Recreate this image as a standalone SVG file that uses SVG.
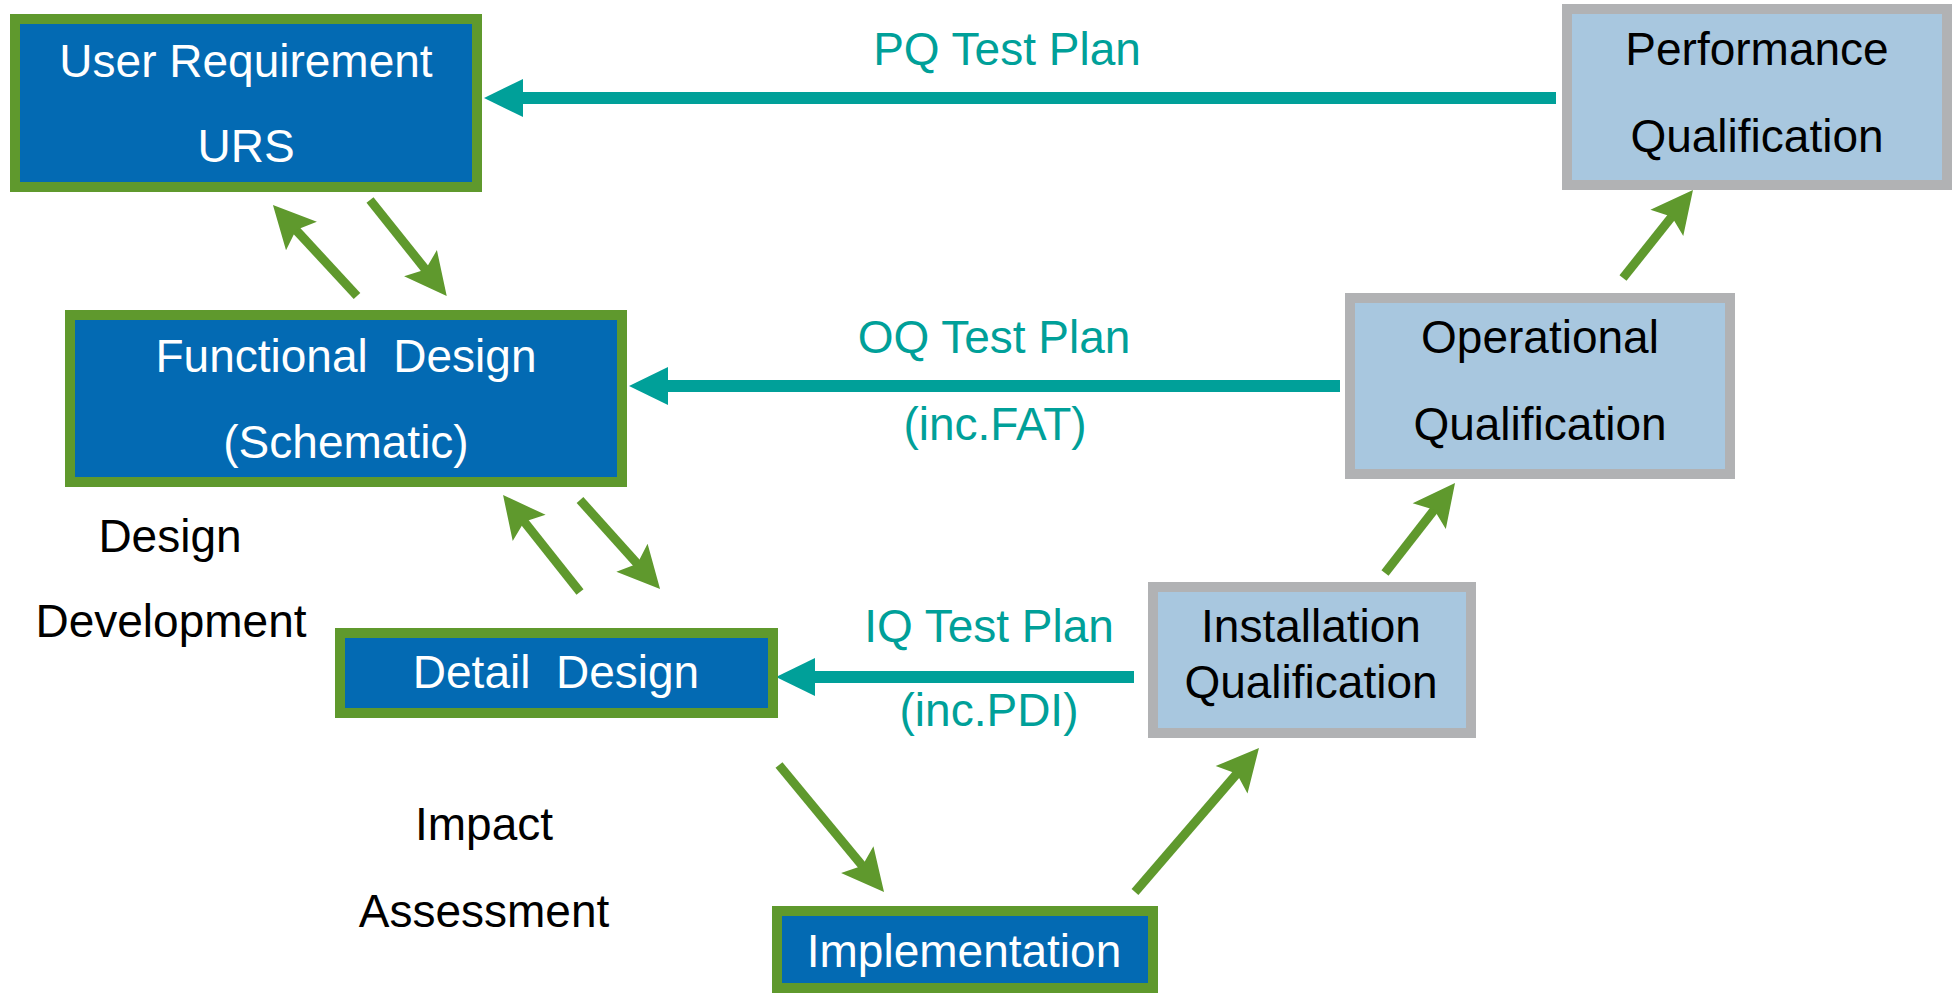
<svg xmlns="http://www.w3.org/2000/svg" width="1956" height="993" viewBox="0 0 1956 993">
  <style>
    text { font-family: "Liberation Sans", Arial, sans-serif; font-size: 46px; text-anchor: middle; }
    .design rect { fill: #036AB3; stroke: #5F992D; stroke-width: 10; }
    .qual rect { fill: #A8C7DF; stroke: #B1B2B4; stroke-width: 10; }
    .design text { fill: #FFFFFF; }
    .qual text, .note { fill: #000000; }
    .plan { fill: #00A099; }
    .step { fill: none; stroke: #5F992D; stroke-width: 9; }
    .test { fill: none; stroke: #00A099; stroke-width: 12; }
  </style>
  <defs>
    <marker id="headGreen" markerUnits="userSpaceOnUse" viewBox="0 -22 43 44" markerWidth="43" markerHeight="44" refX="12" refY="0" orient="auto" overflow="visible">
      <path d="M0,-21 L42,0 L0,21 L8,0 Z" fill="#5F992D"/>
    </marker>
    <marker id="headTeal" markerUnits="userSpaceOnUse" viewBox="0 -20 40 40" markerWidth="40" markerHeight="40" refX="9" refY="0" orient="auto" overflow="visible">
      <path d="M0,-19 L39,0 L0,19 Z" fill="#00A099"/>
    </marker>
  </defs>

  <!-- connectors -->
  <g id="connectors">
    <!-- test plans back to the design stages -->
    <line class="test" x1="1556" y1="98" x2="514" y2="98" marker-end="url(#headTeal)"/>
    <line class="test" x1="1340" y1="386" x2="659" y2="386" marker-end="url(#headTeal)"/>
    <line class="test" x1="1134" y1="677" x2="806" y2="677" marker-end="url(#headTeal)"/>
    <!-- design iterations -->
    <line class="step" x1="357" y1="296" x2="293.3" y2="227.1" marker-end="url(#headGreen)"/>
    <line class="step" x1="370" y1="200" x2="428" y2="272.6" marker-end="url(#headGreen)"/>
    <line class="step" x1="580" y1="592" x2="521.7" y2="518.5" marker-end="url(#headGreen)"/>
    <line class="step" x1="580" y1="500" x2="640" y2="566.7" marker-end="url(#headGreen)"/>
    <line class="step" x1="779" y1="765" x2="864.9" y2="868.9" marker-end="url(#headGreen)"/>
    <!-- qualification path -->
    <line class="step" x1="1135" y1="892" x2="1239.4" y2="770.7" marker-end="url(#headGreen)"/>
    <line class="step" x1="1385" y1="573" x2="1436.6" y2="506.7" marker-end="url(#headGreen)"/>
    <line class="step" x1="1623" y1="278" x2="1674.3" y2="213.5" marker-end="url(#headGreen)"/>
  </g>

  <!-- connector labels -->
  <g id="labels">
    <text class="plan" x="1007" y="65">PQ Test Plan</text>
    <text class="plan" x="994" y="353">OQ Test Plan</text>
    <text class="plan" x="995" y="440">(inc.FAT)</text>
    <text class="plan" x="989" y="642">IQ Test Plan</text>
    <text class="plan" x="989" y="726">(inc.PDI)</text>
    <text class="note" x="170" y="552">Design</text>
    <text class="note" x="171" y="637">Development</text>
    <text class="note" x="484" y="840">Impact</text>
    <text class="note" x="484" y="927">Assessment</text>
  </g>

  <!-- design stages -->
  <g id="urs" class="design">
    <rect x="15" y="19" width="462" height="168"/>
    <text x="246" y="77">User Requirement</text>
    <text x="246" y="162">URS</text>
  </g>
  <g id="functional-design" class="design">
    <rect x="70" y="315" width="552" height="167"/>
    <text x="346" y="372" xml:space="preserve">Functional  Design</text>
    <text x="346" y="458">(Schematic)</text>
  </g>
  <g id="detail-design" class="design">
    <rect x="340" y="633" width="433" height="80"/>
    <text x="556" y="688" xml:space="preserve">Detail  Design</text>
  </g>
  <g id="implementation" class="design">
    <rect x="777" y="911" width="376" height="77"/>
    <text x="964" y="967">Implementation</text>
  </g>

  <!-- qualification stages -->
  <g id="installation-qualification" class="qual">
    <rect x="1153" y="587" width="318" height="146"/>
    <text x="1311" y="642">Installation</text>
    <text x="1311" y="698">Qualification</text>
  </g>
  <g id="operational-qualification" class="qual">
    <rect x="1350" y="298" width="380" height="176"/>
    <text x="1540" y="353">Operational</text>
    <text x="1540" y="440">Qualification</text>
  </g>
  <g id="performance-qualification" class="qual">
    <rect x="1567" y="9" width="380" height="176"/>
    <text x="1757" y="65">Performance</text>
    <text x="1757" y="152">Qualification</text>
  </g>
</svg>
